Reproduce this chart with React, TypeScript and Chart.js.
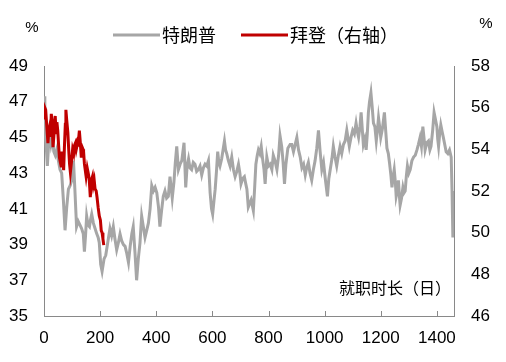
import React, { useEffect, useRef } from "react";
import { Chart, registerables } from "chart.js";

Chart.register(...registerables);

// ---- Data ----
const trumpDays = [
  0, 3, 6, 9, 12, 16, 20, 25, 30, 35, 40, 45, 50, 57, 63, 69, 75, 81, 87, 93,
  99, 105, 110, 116, 122, 128, 134, 140, 144, 148, 152, 157, 162, 166, 170, 176, 182, 188, 193, 197,
  202, 207, 214, 220, 228, 235, 241, 247, 253, 259, 265, 271, 277, 283, 289, 295, 301, 307, 313, 318,
  324, 330, 336, 342, 348, 354, 360, 366, 372, 378, 384, 390, 396, 402, 408, 413, 419, 425, 431, 437,
  443, 449, 457, 463, 468, 473, 479, 485, 491, 499, 505, 510, 515, 520, 526, 532, 538, 544, 550, 556,
  562, 568, 574, 580, 586, 592, 597, 601, 606, 610, 615, 619, 623, 627, 633, 638, 643, 647, 651, 657,
  663, 669, 675, 681, 687, 693, 698, 702, 708, 714, 719, 723, 728, 733, 738, 742, 746, 750, 755, 760,
  764, 769, 774, 779, 784, 788, 794, 800, 806, 812, 817, 823, 830, 836, 841, 847, 852, 857, 862, 869,
  877, 883, 889, 895, 901, 907, 913, 919, 925, 931, 936, 942, 948, 954, 960, 966, 972, 978, 984, 990,
  996, 1003, 1010, 1015, 1020, 1026, 1031, 1037, 1043, 1049, 1055, 1061, 1067, 1073, 1079, 1084, 1088, 1094, 1100, 1106,
  1112, 1117, 1121, 1126, 1130, 1134, 1138, 1143, 1148, 1152, 1156, 1160, 1165, 1169, 1174, 1179, 1184, 1188, 1192, 1196,
  1200, 1206, 1213, 1218, 1222, 1227, 1231, 1236, 1240, 1244, 1248, 1252, 1255, 1259, 1263, 1266, 1269, 1274, 1279, 1283,
  1287, 1291, 1295, 1300, 1305, 1311, 1317, 1323, 1329, 1334, 1340, 1345, 1350, 1354, 1358, 1364, 1370, 1375, 1379, 1385,
  1390, 1395, 1400, 1403, 1406, 1410, 1414, 1419, 1423, 1428, 1433, 1439, 1445, 1451, 1454, 1457, 1461,
];
const trumpApproval = [
  47.3, 46.8, 45.0, 44.2, 43.4, 44.5, 45.2, 44.6, 45.0, 44.2, 44.0, 44.3, 43.8, 43.2, 43.0, 41.5, 39.8, 41.1, 42.1, 42.3,
  42.6, 43.7, 42.1, 40.0, 40.3, 40.1, 39.9, 39.6, 38.6, 39.5, 40.6, 40.1, 40.0, 40.4, 40.7, 40.2, 39.9, 39.6, 39.4, 39.1,
  37.9, 37.5, 38.2, 38.4, 39.2, 39.9, 39.5, 40.0, 39.3, 38.7, 39.1, 39.6, 39.2, 39.0, 38.9, 38.5, 38.0, 38.9, 39.6, 40.0,
  38.6, 37.0, 38.2, 39.1, 40.6, 40.0, 39.4, 39.8, 40.2, 41.0, 42.3, 42.0, 42.2, 41.9, 41.1, 40.0, 40.9, 41.7, 42.0, 41.6,
  41.7, 42.8, 41.6, 42.5, 43.6, 44.5, 43.2, 43.5, 43.7, 44.7, 42.2, 43.4, 43.8, 43.3, 43.2, 43.6, 43.5, 43.1, 43.2, 43.4,
  42.9, 43.3, 43.5, 43.4, 43.7, 41.9, 41.0, 40.7, 41.5, 42.1, 43.2, 44.2, 43.6, 43.4, 43.8, 44.3, 44.8, 44.3, 44.1, 43.7,
  43.4, 43.9, 43.2, 42.8, 43.1, 43.5, 43.0, 42.4, 42.7, 42.8, 42.4, 42.1, 41.1, 41.3, 41.5, 41.2, 40.9, 42.0, 43.5, 44.0,
  44.3, 44.1, 44.5, 43.8, 43.2, 42.4, 43.9, 43.4, 43.5, 43.2, 44.0, 43.7, 43.2, 44.0, 45.1, 44.5, 43.6, 42.4, 43.5, 44.4,
  44.6, 44.6, 44.2, 44.6, 45.0, 44.3, 43.9, 43.3, 43.5, 42.9, 43.3, 43.6, 43.0, 42.6, 43.2, 43.7, 44.4, 45.4, 44.2, 43.2,
  43.6, 42.6, 41.7, 42.7, 43.2, 43.8, 44.5, 43.9, 43.4, 44.0, 44.5, 44.1, 44.6, 44.8, 45.4, 44.9, 44.5, 45.0, 45.4, 45.2,
  45.8, 45.3, 45.0, 45.6, 46.4, 45.5, 44.6, 44.9, 44.3, 45.2, 46.4, 47.0, 47.5, 46.8, 45.8, 45.6, 44.8, 45.4, 46.1, 45.6,
  45.0, 45.5, 46.4, 45.3, 44.4, 44.1, 43.6, 42.9, 42.2, 42.8, 43.2, 42.5, 41.7, 42.0, 42.6, 41.8, 41.2, 41.6, 42.2, 41.9,
  42.0, 42.8, 43.4, 43.0, 43.2, 43.7, 43.9, 44.0, 44.3, 44.6, 45.0, 44.5, 45.6, 45.0, 44.3, 44.7, 44.8, 44.3, 44.5, 45.4,
  46.4, 46.0, 45.6, 44.9, 44.5, 45.2, 45.7, 45.3, 45.0, 44.6, 44.2, 44.1, 44.3, 43.9, 42.0, 39.4, 41.1,
];

const bidenDays = [
  0, 3, 6, 9, 12, 14, 17, 20, 23, 26, 29, 32, 35, 38, 40, 43, 46, 49, 52, 55,
  58, 61, 63, 66, 70, 73, 76, 78, 81, 85, 88, 91, 94, 98, 102, 106, 109, 112, 115, 118,
  121, 124, 126, 129, 133, 136, 139, 141, 144, 147, 150, 154, 157, 161, 165, 168, 171, 173, 176, 179,
  182, 186, 189, 193, 197, 201, 204, 207, 210, 213,
];
const bidenApproval = [
  55.5, 56.0, 55.9, 55.3, 54.7, 54.3, 54.9, 55.1, 54.6, 55.7, 55.3, 54.1, 54.6, 55.3, 55.6, 54.8, 55.3, 54.9, 54.2, 53.6,
  53.4, 53.2, 53.9, 53.6, 53.0, 54.2, 55.2, 55.9, 55.4, 54.8, 54.0, 53.3, 52.9, 53.4, 54.0, 53.8, 54.2, 54.3, 54.0, 54.2,
  54.5, 54.6, 54.9, 54.4, 53.6, 54.1, 54.0, 53.9, 53.3, 53.0, 52.7, 53.1, 52.9, 52.6, 51.7, 52.3, 52.6, 52.7, 52.3, 52.5,
  52.1, 52.0, 51.7, 51.2, 50.8, 50.6, 50.1, 50.0, 49.7, 49.4,
];

const seriesNames = ["特朗普", "拜登（右轴）"];
const unitLabel = "%";
const xAxisTitle = "就职时长（日）";

const leftAxis = { min: 35, max: 49, step: 2 };
const rightAxis = { min: 46, max: 58, step: 2 };
const xAxis = { min: 0, max: 1461, step: 200 };

// ---- Styles ----
const GRAY = "#a6a6a6";
const RED = "#c00000";
const AXIS = "#898989";
const FONT = "'Liberation Sans', Arial, 'Noto Sans CJK SC', sans-serif";
const CJK_FONT = "'Noto Sans CJK SC', 'Liberation Sans', sans-serif";

const overlayPlugin = {
  id: "overlay",
  afterDraw(chart: any) {
    const ctx = chart.ctx as CanvasRenderingContext2D;
    const area = chart.chartArea;
    ctx.save();
    // inward tick marks on the x axis
    const xs = chart.scales.x;
    ctx.strokeStyle = AXIS;
    ctx.lineWidth = 1;
    xs.ticks.forEach((t: any) => {
      const px = Math.round(xs.getPixelForValue(t.value)) + 0.5;
      ctx.beginPath();
      ctx.moveTo(px, area.bottom);
      ctx.lineTo(px, area.bottom - 5);
      ctx.stroke();
    });
    // legend
    const legendItems = [
      { x: 113, ds: chart.data.datasets[0] },
      { x: 241, ds: chart.data.datasets[1] },
    ];
    const ly = 35;
    legendItems.forEach((it) => {
      ctx.strokeStyle = it.ds.borderColor;
      ctx.lineWidth = 3;
      ctx.beginPath();
      ctx.moveTo(it.x, ly);
      ctx.lineTo(it.x + 47, ly);
      ctx.stroke();
      ctx.fillStyle = "#000";
      ctx.font = `18px ${CJK_FONT}`;
      ctx.textAlign = "left";
      ctx.textBaseline = "middle";
      ctx.fillText(it.ds.label, it.x + 49, ly);
    });
    // units
    ctx.font = `15px ${FONT}`;
    ctx.textAlign = "center";
    ctx.textBaseline = "middle";
    ctx.fillText(unitLabel, 32, 28);
    ctx.fillText(unitLabel, 486, 24);
    // x-axis title inside plot
    ctx.font = `16px ${CJK_FONT}`;
    ctx.textAlign = "right";
    ctx.fillText(xAxisTitle, area.right - 3, 288);
    ctx.restore();
  },
};

export default function App() {
  const canvasRef = useRef<HTMLCanvasElement | null>(null);

  useEffect(() => {
    if (!canvasRef.current) return;
    const trumpData = trumpDays.map((d, i) => ({ x: d, y: trumpApproval[i] }));
    const bidenData = bidenDays.map((d, i) => ({ x: d, y: bidenApproval[i] }));

    const chart = new Chart(canvasRef.current, {
      type: "line",
      data: {
        datasets: [
          {
            label: seriesNames[0],
            data: trumpData,
            borderColor: GRAY,
            backgroundColor: GRAY,
            borderWidth: 3,
            pointRadius: 0,
            tension: 0,
            yAxisID: "y",
            order: 1,
          },
          {
            label: seriesNames[1],
            data: bidenData,
            borderColor: RED,
            backgroundColor: RED,
            borderWidth: 3,
            pointRadius: 0,
            tension: 0,
            yAxisID: "y1",
            order: 0,
          },
        ],
      },
      options: {
        responsive: false,
        animation: false,
        devicePixelRatio: 1,
        layout: { padding: { top: 66, left: 0, right: 0, bottom: 0 } },
        plugins: {
          legend: { display: false },
          tooltip: { enabled: false },
          title: { display: false },
        },
        scales: {
          x: {
            type: "linear",
            min: xAxis.min,
            max: xAxis.max,
            ticks: {
              stepSize: xAxis.step,
              includeBounds: false,
              autoSkip: false,
              maxRotation: 0,
              color: "#000",
              font: { family: FONT, size: 17 },
              padding: 12,
              callback: (v: any) => String(v),
            },
            grid: { display: false, drawTicks: false },
            border: { display: true, color: AXIS, width: 1 },
            afterFit: (s: any) => {
              s.height = 46;
            },
          },
          y: {
            type: "linear",
            position: "left",
            min: leftAxis.min,
            max: leftAxis.max,
            ticks: {
              stepSize: leftAxis.step,
              color: "#000",
              font: { family: FONT, size: 17 },
              padding: 16,
              callback: (v: any) => String(v),
            },
            grid: { display: false, drawTicks: false },
            border: { display: true, color: AXIS, width: 1 },
            afterFit: (s: any) => {
              s.width = 44;
            },
          },
          y1: {
            type: "linear",
            position: "right",
            min: rightAxis.min,
            max: rightAxis.max,
            ticks: {
              stepSize: rightAxis.step,
              color: "#000",
              font: { family: FONT, size: 17 },
              padding: 17,
              callback: (v: any) => String(v),
            },
            grid: { display: false, drawTicks: false },
            border: { display: true, color: AXIS, width: 1 },
            afterFit: (s: any) => {
              s.width = 52;
            },
          },
        },
      },
      plugins: [overlayPlugin],
    });
    return () => chart.destroy();
  }, []);

  return (
    <div style={{ position: "absolute", left: 0, top: 0, width: 506, height: 362, background: "#fff" }}>
      <canvas ref={canvasRef} width={506} height={362} style={{ display: "block" }} />
    </div>
  );
}
